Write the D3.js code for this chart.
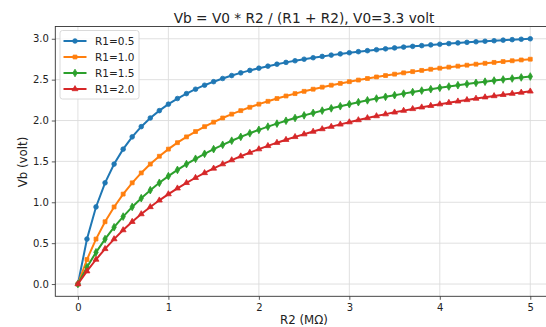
<!DOCTYPE html>
<html><head><meta charset="utf-8">
<script src="https://cdn.jsdelivr.net/npm/d3@7"></script>
<style>body{margin:0;background:#fff}svg{display:block}text{font-family:"DejaVu Sans",sans-serif;fill:#222}</style>
</head><body><svg id="c" width="546" height="327"></svg>
<script>
const r2 = [0,0.1,0.2,0.3,0.4,0.5,0.6,0.7,0.8,0.9,1.0,1.1,1.2,1.3,1.4,1.5,1.6,1.7,1.8,1.9,2.0,2.1,2.2,2.3,2.4,2.5,2.6,2.7,2.8,2.9,3.0,3.1,3.2,3.3,3.4,3.5,3.6,3.7,3.8,3.9,4.0,4.1,4.2,4.3,4.4,4.5,4.6,4.7,4.8,4.9,5.0];
const seriesNames = ["R1=0.5","R1=1.0","R1=1.5","R1=2.0"];
const vbR1_05 = [0,0.55,0.943,1.238,1.467,1.65,1.8,1.925,2.031,2.121,2.2,2.269,2.329,2.383,2.432,2.475,2.514,2.55,2.583,2.613,2.64,2.665,2.689,2.711,2.731,2.75,2.768,2.784,2.8,2.815,2.829,2.842,2.854,2.866,2.877,2.888,2.898,2.907,2.916,2.925,2.933,2.941,2.949,2.956,2.963,2.97,2.976,2.983,2.989,2.994,3.0];
const vbR1_10 = [0,0.3,0.55,0.762,0.943,1.1,1.238,1.359,1.467,1.563,1.65,1.729,1.8,1.865,1.925,1.98,2.031,2.078,2.121,2.162,2.2,2.235,2.269,2.3,2.329,2.357,2.383,2.408,2.432,2.454,2.475,2.495,2.514,2.533,2.55,2.567,2.583,2.598,2.613,2.627,2.64,2.653,2.665,2.677,2.689,2.7,2.711,2.721,2.731,2.741,2.75];
const vbR1_15 = [0,0.206,0.388,0.55,0.695,0.825,0.943,1.05,1.148,1.238,1.32,1.396,1.467,1.532,1.593,1.65,1.703,1.753,1.8,1.844,1.886,1.925,1.962,1.997,2.031,2.063,2.093,2.121,2.149,2.175,2.2,2.224,2.247,2.269,2.29,2.31,2.329,2.348,2.366,2.383,2.4,2.416,2.432,2.447,2.461,2.475,2.489,2.502,2.514,2.527,2.538];
const vbR1_20 = [0,0.157,0.3,0.43,0.55,0.66,0.762,0.856,0.943,1.024,1.1,1.171,1.238,1.3,1.359,1.414,1.467,1.516,1.563,1.608,1.65,1.69,1.729,1.765,1.8,1.833,1.865,1.896,1.925,1.953,1.98,2.006,2.031,2.055,2.078,2.1,2.121,2.142,2.162,2.181,2.2,2.218,2.235,2.252,2.269,2.285,2.3,2.315,2.329,2.343,2.357];
const xTicks = [0,1,2,3,4,5];
const yTicks = [0,0.5,1.0,1.5,2.0,2.5,3.0];
const titleText = "Vb = V0 * R2 / (R1 + R2), V0=3.3 volt";
const xLabel = "R2 (M\u03A9)";
const yLabel = "Vb (volt)";

const allSeries = [vbR1_05, vbR1_10, vbR1_15, vbR1_20];
const colors = ["#1f77b4","#ff7f0e","#2ca02c","#d62728"];
const symbols = [d3.symbolCircle, d3.symbolSquare, d3.symbolDiamond, d3.symbolTriangle];
const symSizes = [17, 15, 17, 15];

const L = 55.3, R = 552.9, T = 26.5, B = 296.3;
const x = d3.scaleLinear().domain([-0.25, 5.25]).range([L, R]);
const y = d3.scaleLinear().domain([-0.15, 3.15]).range([B, T]);
const svg = d3.select("#c");

// grid
const g = svg.append("g");
g.selectAll("line.gx").data(xTicks).join("line")
  .attr("x1", d => x(d)).attr("x2", d => x(d)).attr("y1", T).attr("y2", B)
  .attr("stroke", "#dcdcdc").attr("stroke-width", 0.9);
g.selectAll("line.gy").data(yTicks).join("line").attr("class","gy")
  .attr("x1", L).attr("x2", R).attr("y1", d => y(d)).attr("y2", d => y(d))
  .attr("stroke", "#dcdcdc").attr("stroke-width", 0.9);

// axes
const xAxis = d3.axisBottom(x).tickValues(xTicks).tickFormat(d3.format("d")).tickSize(3.5).tickPadding(3);
const yAxis = d3.axisLeft(y).tickValues(yTicks).tickFormat(d3.format(".1f")).tickSize(3.5).tickPadding(3);
const gx = svg.append("g").attr("transform", `translate(0,${B})`).call(xAxis);
const gy = svg.append("g").attr("transform", `translate(${L},0)`).call(yAxis);
[gx, gy].forEach(a => {
  a.select(".domain").remove();
  a.selectAll("line").attr("stroke", "#333").attr("stroke-width", 0.8);
  a.selectAll("text").style("font-family", "DejaVu Sans").style("font-size", "10px").attr("fill", "#222");
});
gx.selectAll("text").attr("dy", "0.85em");

// series
const line = d3.line().x((d, i) => x(r2[i])).y(d => y(d));
allSeries.forEach((s, k) => {
  svg.append("path").datum(s).attr("d", line)
    .attr("fill", "none").attr("stroke", colors[k]).attr("stroke-width", 2);
  svg.append("g").selectAll("path").data(s).join("path")
    .attr("d", d3.symbol().type(symbols[k]).size(symSizes[k]))
    .attr("transform", (d, i) => `translate(${x(r2[i])},${y(d)})`)
    .attr("fill", colors[k]).attr("stroke", colors[k]).attr("stroke-width", 0.8);
});

// spines
svg.append("rect").attr("x", L).attr("y", T).attr("width", R - L).attr("height", B - T)
  .attr("fill", "none").attr("stroke", "#333").attr("stroke-width", 0.9);

// legend
const lg = svg.append("g");
lg.append("rect").attr("x", 60).attr("y", 30.5).attr("width", 79).attr("height", 68.5).attr("rx", 2.5)
  .attr("fill", "#fff").attr("fill-opacity", 0.85).attr("stroke", "#d6d6d6").attr("stroke-width", 0.9);
seriesNames.forEach((n, k) => {
  const yy = 41 + 16 * k;
  lg.append("line").attr("x1", 63.5).attr("x2", 86.5).attr("y1", yy).attr("y2", yy)
    .attr("stroke", colors[k]).attr("stroke-width", 2);
  lg.append("path").attr("d", d3.symbol().type(symbols[k]).size(symSizes[k])())
    .attr("transform", `translate(75,${yy})`).attr("fill", colors[k]).attr("stroke", colors[k]).attr("stroke-width", 0.8);
  lg.append("text").attr("x", 95).attr("y", yy).attr("dy", "0.36em").style("font-size", "10.5px").text(n);
});

// title & labels
svg.append("text").attr("x", 304).attr("y", 22.8).attr("text-anchor", "middle")
  .style("font-size", "13.7px").text(titleText);
svg.append("text").attr("x", 304).attr("y", 324.3).attr("text-anchor", "middle")
  .style("font-size", "11.8px").text(xLabel);
svg.append("text").attr("transform", "translate(27,162) rotate(-90)").attr("text-anchor", "middle")
  .style("font-size", "11.8px").text(yLabel);
</script></body></html>
